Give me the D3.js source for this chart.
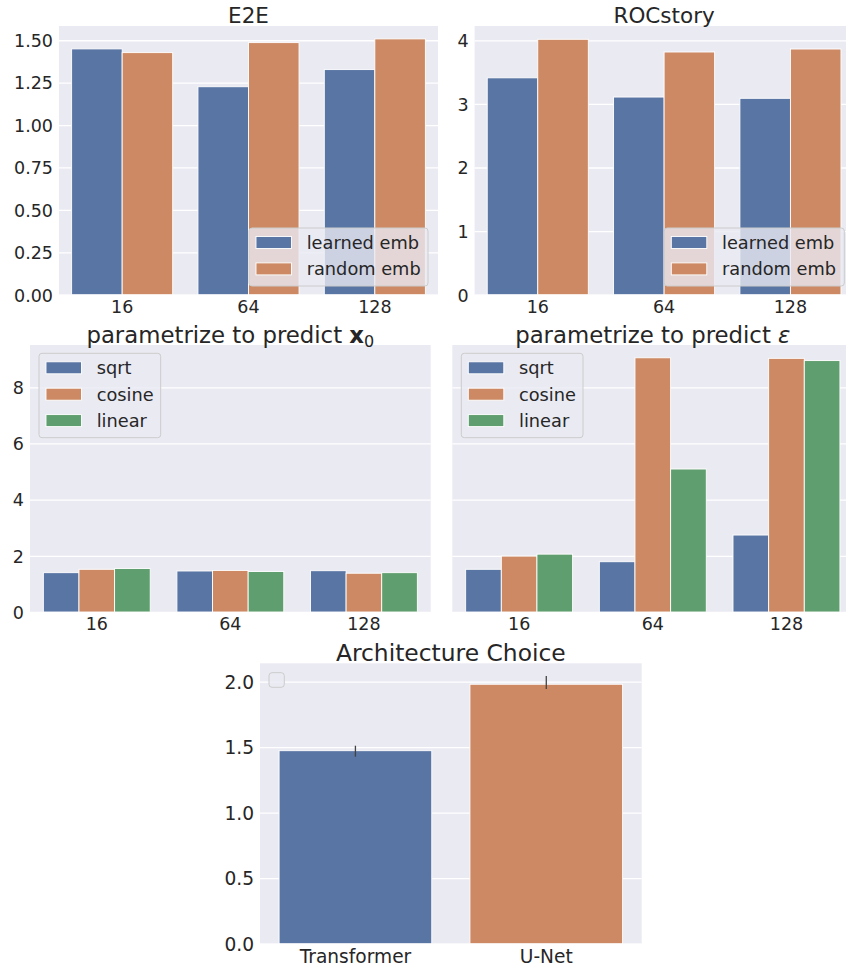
<!DOCTYPE html>
<html>
<head>
<meta charset="utf-8">
<script src="https://d3js.org/d3.v7.min.js"></script>
<style>
  body { margin: 0; background: #fff; }
  text { font-family: 'DejaVu Sans', sans-serif; fill: #262626; }
</style>
</head>
<body>
<div id="vis"></div>
<script>
  // values
  var sizes = ['16', '64', '128'];
  var embNames = ['learned emb', 'random emb'];
  var e2eLearned = [1.449, 1.226, 1.327];
  var e2eRandom = [1.427, 1.486, 1.508];
  var rocLearned = [3.41, 3.108, 3.088];
  var rocRandom = [4.016, 3.816, 3.863];

  var schedNames = ['sqrt', 'cosine', 'linear'];
  var x0Sqrt = [1.40, 1.46, 1.47];
  var x0Cosine = [1.52, 1.48, 1.38];
  var x0Linear = [1.55, 1.44, 1.40];
  var epsSqrt = [1.52, 1.79, 2.74];
  var epsCosine = [1.99, 9.05, 9.03];
  var epsLinear = [2.06, 5.09, 8.95];

  var archNames = ['Transformer', 'U-Net'];
  var archMean = [1.473, 1.98];
  var archLow = [1.427, 1.944];
  var archHigh = [1.511, 2.044];

  var e2eTicks = [0, 0.25, 0.5, 0.75, 1, 1.25, 1.5];
  var rocTicks = [0, 1, 2, 3, 4];
  var paramTicks = [0, 2, 4, 6, 8];
  var archTicks = [0, 0.5, 1, 1.5, 2];

  var colors = ['#5975a4', '#cc8963', '#5f9e6e'];

  var svg = d3.select('#vis')
    .append('svg')
    .attr('width', 846)
    .attr('height', 969)
    .style('display', 'block');

  svg.append('rect').attr('width', 846).attr('height', 969).attr('fill', '#fff');

  function panel(o) {
    var g = svg.append('g');
    var fs = o.fs || 17.5;
    var x = d3.scaleBand()
      .domain(o.cats)
      .range([o.left, o.right])
      .paddingInner(0.2)
      .paddingOuter(0.1);
    var y = d3.scaleLinear()
      .domain([0, o.ymax])
      .range([o.bottom, o.top]);

    g.append('rect')
      .attr('x', o.left).attr('y', o.top)
      .attr('width', o.right - o.left)
      .attr('height', o.bottom - o.top)
      .attr('fill', '#eaeaf2');

    var ya = g.append('g')
      .attr('transform', 'translate(' + o.left + ',0)')
      .call(d3.axisLeft(y).tickValues(o.ticks).tickSize(-(o.right - o.left)).tickPadding(6)
        .tickFormat(o.fmt ? d3.format(o.fmt) : function() { return ''; }));
    ya.select('.domain').remove();
    ya.selectAll('.tick line').attr('stroke', '#fff').attr('stroke-width', 1.3);
    ya.selectAll('text').attr('font-size', fs).attr('font-family', null).attr('dy', '0.36em').style('fill', '#262626');

    var xa = g.append('g')
      .attr('transform', 'translate(0,' + o.bottom + ')')
      .call(d3.axisBottom(x).tickSize(0).tickPadding(o.xpad || 5.6));
    xa.select('.domain').remove();
    xa.selectAll('text').attr('font-size', fs).attr('font-family', null).style('fill', '#262626');

    var inner = d3.scaleBand()
      .domain(d3.range(o.series.length))
      .range([0, x.bandwidth()]);

    o.series.forEach(function(vals, si) {
      g.append('g').selectAll('rect')
        .data(vals)
        .enter()
        .append('rect')
        .attr('x', function(d, i) { return x(o.cats[i]) + inner(si); })
        .attr('y', function(d) { return y(d); })
        .attr('width', inner.bandwidth())
        .attr('height', function(d) { return y(0) - y(d); })
        .attr('fill', function(d, i) { return o.colorByCat ? colors[i] : colors[si]; })
        .attr('stroke', '#fff')
        .attr('stroke-width', 0.9);
    });

    var t = g.append('text')
      .attr('x', (o.left + o.right) / 2)
      .attr('y', o.titleY)
      .attr('text-anchor', 'middle')
      .attr('font-size', o.tfs || 21.5);
    o.title(t);

    return { g: g, x: x, y: y };
  }

  function legend(bx, by, bw, bh, names) {
    var g = svg.append('g');
    g.append('rect')
      .attr('x', bx).attr('y', by)
      .attr('width', bw).attr('height', bh)
      .attr('rx', 3)
      .attr('fill', '#eaeaf2').attr('fill-opacity', 0.8)
      .attr('stroke', '#cccccc').attr('stroke-width', 1);
    names.forEach(function(n, i) {
      var cy = by + 14.5 + i * 26.4;
      g.append('rect')
        .attr('x', bx + 7).attr('y', cy - 6)
        .attr('width', 35.5).attr('height', 12)
        .attr('fill', colors[i])
        .attr('stroke', '#fff').attr('stroke-width', 0.9);
      g.append('text')
        .attr('x', bx + 57.7).attr('y', cy + 6.3)
        .attr('font-size', 17.75)
        .text(n);
    });
  }

  // E2E
  panel({
    cats: sizes, series: [e2eLearned, e2eRandom],
    left: 59, right: 438, top: 26, bottom: 294.7, ymax: 1.584,
    ticks: e2eTicks, fmt: '.2f', titleY: 23.3,
    title: function(t) { t.text('E2E'); }
  });
  legend(249, 228, 179, 58, embNames);

  // ROCstory
  panel({
    cats: sizes, series: [rocLearned, rocRandom],
    left: 474.6, right: 853.6, top: 26, bottom: 294.7, ymax: 4.225,
    ticks: rocTicks, fmt: 'd', titleY: 23.3,
    title: function(t) { t.text('ROCstory'); }
  });
  legend(664.3, 228, 180, 58, embNames);

  // predict x0
  panel({
    cats: sizes, series: [x0Sqrt, x0Cosine, x0Linear],
    left: 30, right: 430.7, top: 345, bottom: 612, ymax: 9.505,
    ticks: paramTicks, fmt: 'd', titleY: 342.7, tfs: 22.8,
    title: function(t) {
      t.append('tspan').text('parametrize to predict ');
      t.append('tspan').attr('font-weight', 'bold').text('x');
      t.append('tspan').attr('font-size', 16).attr('dy', 4).text('0');
    }
  });
  legend(39, 353.3, 121.7, 84.4, schedNames);

  // predict eps
  panel({
    cats: sizes, series: [epsSqrt, epsCosine, epsLinear],
    left: 452.3, right: 853.3, top: 345, bottom: 612, ymax: 9.505,
    ticks: paramTicks, fmt: null, titleY: 342.7, tfs: 22.8,
    title: function(t) {
      t.append('tspan').text('parametrize to predict ');
      t.append('tspan').attr('font-style', 'italic').text('\u03b5');
    }
  });
  legend(461.3, 353.3, 121.7, 84.4, schedNames);

  // Architecture Choice
  var p5 = panel({
    cats: archNames, series: [archMean], colorByCat: true,
    left: 260, right: 641.7, top: 663.3, bottom: 943.7, ymax: 2.14,
    ticks: archTicks, fmt: '.1f', titleY: 660.7, fs: 18.6, tfs: 23.4, xpad: 6,
    title: function(t) { t.text('Architecture Choice'); }
  });
  p5.g.append('g').selectAll('line')
    .data(archMean)
    .enter()
    .append('line')
    .attr('x1', function(d, i) { return p5.x(archNames[i]) + p5.x.bandwidth() / 2; })
    .attr('x2', function(d, i) { return p5.x(archNames[i]) + p5.x.bandwidth() / 2; })
    .attr('y1', function(d, i) { return p5.y(archLow[i]); })
    .attr('y2', function(d, i) { return p5.y(archHigh[i]); })
    .attr('stroke', '#424242')
    .attr('stroke-width', 1.3);
  svg.append('rect')
    .attr('x', 269).attr('y', 672.7)
    .attr('width', 15.3).attr('height', 14.6)
    .attr('rx', 3)
    .attr('fill', '#eaeaf2').attr('fill-opacity', 0.8)
    .attr('stroke', '#cccccc').attr('stroke-width', 1);
</script>
</body>
</html>
